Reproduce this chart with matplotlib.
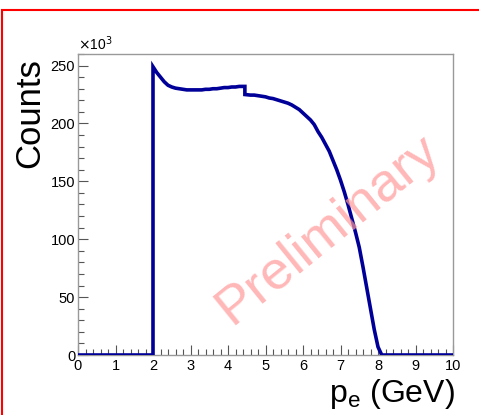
import matplotlib
matplotlib.use("Agg")
import matplotlib.pyplot as plt
from matplotlib.patches import Rectangle
from matplotlib.ticker import MultipleLocator

plt.rcParams['font.family'] = ['Liberation Sans', 'DejaVu Sans']

# Data (momentum in GeV, counts in units of 10^3)
p_gev = [0.0, 2.0, 2.0, 2.1, 2.2, 2.3, 2.4, 2.5, 2.6, 2.7, 2.8, 2.9, 3.0,
         3.1, 3.2, 3.3, 3.4, 3.5, 3.6, 3.7, 3.8, 3.9, 4.0, 4.1, 4.2, 4.3,
         4.45, 4.45, 4.6, 4.7, 4.8, 4.9, 5.0, 5.1, 5.2, 5.3, 5.4, 5.5, 5.6,
         5.7, 5.8, 5.9, 6.0, 6.1, 6.2, 6.3, 6.4, 6.5, 6.6, 6.7, 6.8, 6.9,
         7.0, 7.1, 7.2, 7.3, 7.4, 7.5, 7.6, 7.7, 7.8, 7.9, 8.0, 8.1, 10.0]
counts_k = [0, 0, 249, 244, 240, 236, 233, 231.5, 230.5, 230, 229.5, 229, 229,
            229, 229, 229, 229.5, 229.5, 230, 230, 230.5, 231, 231, 231.5, 231.5, 232,
            232, 225, 224.5, 224.5, 224, 223.5, 223, 222, 221.5, 220.5, 219.5, 218.5, 217.5,
            216, 214, 212, 209, 206, 203, 199, 193, 188, 182, 176, 168, 160,
            151, 141, 130, 118, 106, 93, 76, 58, 40, 22, 7, 0, 0]

x_ticks = [0, 1, 2, 3, 4, 5, 6, 7, 8, 9, 10]
y_ticks = [0, 50, 100, 150, 200, 250]

fig = plt.figure(figsize=(4.79, 4.15), dpi=100)
ax = fig.add_axes([78/479, 1-355/415, (453-78)/479, (355-54)/415])

ax.plot(p_gev, counts_k, color='#000099', lw=2.6, solid_joinstyle='miter', zorder=3)

ax.set_xlim(0, 10)
ax.set_ylim(0, 260)
ax.set_xticks(x_ticks)
ax.set_yticks(y_ticks)
ax.xaxis.set_minor_locator(MultipleLocator(0.2))
ax.yaxis.set_minor_locator(MultipleLocator(10))
ax.tick_params(which='both', direction='in', colors='#555555', labelcolor='black',
               labelsize=10.5, width=0.8)
ax.tick_params(which='major', length=7)
ax.tick_params(which='minor', length=4)
ax.tick_params(axis='x', pad=3)
ax.tick_params(axis='y', pad=2)
for s in ax.spines.values():
    s.set_color('#999999')
    s.set_linewidth(1.0)

fig.text(78/479, 1-50/415, r'$\times$10$^{3}$', fontsize=10, ha='left', va='baseline')

fig.text(30/479, 1-113/415, 'Counts', fontsize=25, rotation=90, ha='center', va='center')
fig.text(455/479, 1-402/415, r'p$_{\mathregular{e}}$ (GeV)', fontsize=23, ha='right', va='baseline')

fig.text(232/479, 1-325/415, 'Preliminary', fontsize=39, color='#ff9999', alpha=0.7,
         rotation=39, rotation_mode='anchor', ha='left', va='baseline')

fig.patches.append(Rectangle((2/479, -0.2), 1.2, 1.2 - 10/415, transform=fig.transFigure,
                             fill=False, edgecolor='red', lw=1.5, zorder=10))

fig.savefig('out.png', dpi=100)
